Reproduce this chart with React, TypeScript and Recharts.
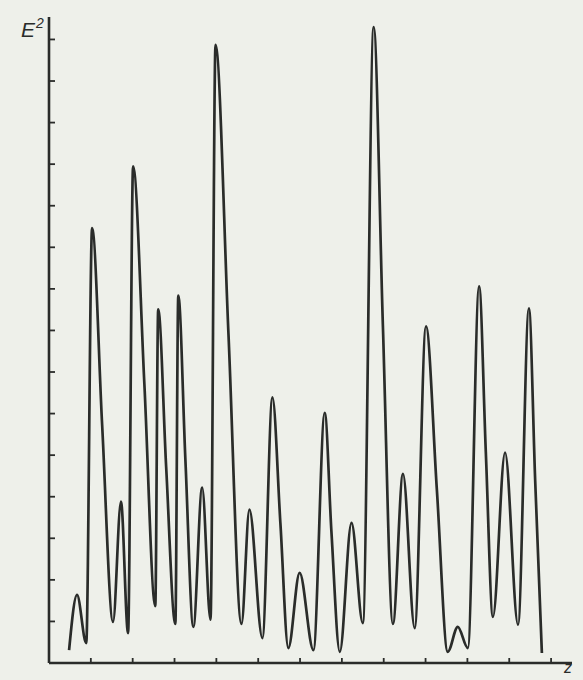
import React from 'react';
import { LineChart, Line, XAxis, YAxis } from 'recharts';

// z positions of the traced curve (peaks, troughs and points on the descents)
const zValues = [
  0.48, 0.67, 0.89, 1.03, 1.27, 1.53, 1.72, 1.89, 2.01, 2.28, 2.54, 2.61, 2.8, 3.02,
  3.09, 3.26, 3.45, 3.66, 3.86, 3.98, 4.29, 4.6, 4.79, 5.1, 5.34, 5.53, 5.72, 5.99,
  6.32, 6.59, 6.75, 6.95, 7.23, 7.5, 7.76, 7.98, 8.22, 8.46, 8.74, 9.01, 9.27, 9.53,
  9.77, 10.01, 10.28, 10.44, 10.61, 10.9, 11.21, 11.47, 11.62, 11.78,
];

// E^2 values at those positions
const e2Values = [
  0.31, 1.64, 0.48, 10.46, 5.73, 0.99, 3.88, 0.72, 11.95, 6.7, 1.37, 8.51, 4.72, 0.94,
  8.84, 4.89, 0.87, 4.22, 1.04, 14.87, 7.9, 0.94, 3.69, 0.6, 6.39, 3.37, 0.36, 2.17,
  0.31, 6.02, 3.16, 0.27, 3.37, 0.96, 15.3, 8.12, 0.94, 4.55, 0.84, 8.1, 4.17, 0.27,
  0.87, 0.36, 9.06, 5.08, 1.11, 5.06, 0.92, 8.53, 4.39, 0.24,
];

const xTicks = [1, 2, 3, 4, 5, 6, 7, 8, 9, 10, 11, 12];
const yTicks = [1, 2, 3, 4, 5, 6, 7, 8, 9, 10, 11, 12, 13, 14, 15];

const data = zValues.map((z, i) => ({ z, e2: e2Values[i] }));

const INK = '#2a2c2a';
const noLabel = () => '';

export default function App() {
  return (
    <div
      style={{
        position: 'absolute',
        left: 0,
        top: 0,
        width: 583,
        height: 680,
        background: '#eef0ea',
        overflow: 'hidden',
      }}
    >
      <LineChart
        width={583}
        height={680}
        data={data}
        margin={{ top: 17, right: 11, bottom: 17, left: 49 }}
      >
        <XAxis
          dataKey="z"
          type="number"
          domain={[0, 12.5]}
          ticks={xTicks}
          allowDataOverflow
          height={1}
          mirror
          tickFormatter={noLabel}
          tick={{ fontSize: 1, fill: 'none' }}
          tickSize={5}
          axisLine={{ stroke: INK, strokeWidth: 2.6 }}
          tickLine={{ stroke: INK, strokeWidth: 1.8 }}
        />
        <YAxis
          type="number"
          domain={[0, 15.54]}
          ticks={yTicks}
          allowDataOverflow
          width={1}
          mirror
          tickFormatter={noLabel}
          tick={{ fontSize: 1, fill: 'none' }}
          tickSize={6}
          axisLine={{ stroke: INK, strokeWidth: 2.6 }}
          tickLine={{ stroke: INK, strokeWidth: 1.8 }}
        />
        <Line
          type="monotone"
          dataKey="e2"
          stroke={INK}
          strokeWidth={2.7}
          dot={false}
          isAnimationActive={false}
        />
      </LineChart>
      <div
        style={{
          position: 'absolute',
          left: 21,
          top: 19,
          fontFamily: '"Liberation Sans", Arial, sans-serif',
          fontStyle: 'italic',
          fontSize: 21,
          color: INK,
          lineHeight: 1,
        }}
      >
        E<span style={{ fontSize: 14, position: 'relative', top: -9, left: 1 }}>2</span>
      </div>
      <div
        style={{
          position: 'absolute',
          left: 564,
          top: 660,
          fontFamily: '"Liberation Sans", Arial, sans-serif',
          fontStyle: 'italic',
          fontSize: 16,
          color: INK,
          lineHeight: 1,
        }}
      >
        z
      </div>
    </div>
  );
}
